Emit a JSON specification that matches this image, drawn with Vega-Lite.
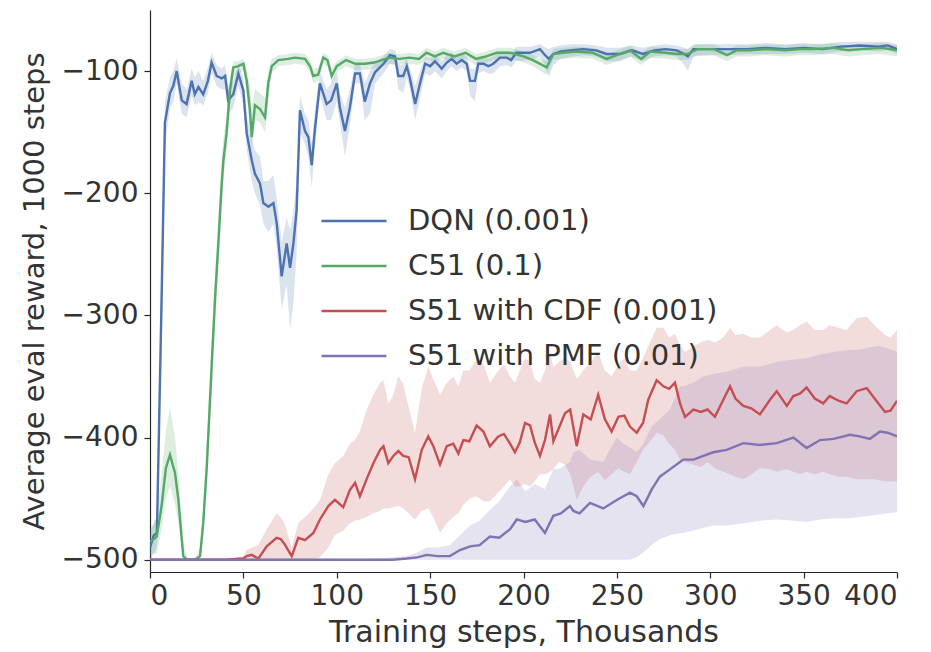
{
  "$schema": "https://vega.github.io/schema/vega-lite/v6.json",
  "width": 747,
  "height": 562,
  "autosize": {"type": "none"},
  "padding": {"left": 150, "top": 10, "right": 34, "bottom": 80},
  "background": "white",
  "config": {
    "view": {"stroke": null},
    "font": "DejaVu Sans",
    "axis": {"grid": false, "domainColor": "#262626", "tickColor": "#262626", "labelColor": "#333333", "titleColor": "#333333", "labelFont": "DejaVu Sans", "titleFont": "DejaVu Sans", "titleFontWeight": "normal", "labelFontSize": 28, "titleFontSize": 29, "tickSize": 6, "domainWidth": 1.2, "tickWidth": 1.2}
  },
  "datasets": {
    "d": [
      {"s":"DQN (0.001)","x":0,"y":-490,"lo":-500,"hi":-478},
      {"s":"DQN (0.001)","x":2,"y":-480,"lo":-495,"hi":-470},
      {"s":"DQN (0.001)","x":3.7,"y":-478,"lo":-490,"hi":-465},
      {"s":"DQN (0.001)","x":6.2,"y":-287,"lo":-330,"hi":-250},
      {"s":"DQN (0.001)","x":8,"y":-142,"lo":-160,"hi":-125},
      {"s":"DQN (0.001)","x":10.7,"y":-118,"lo":-130,"hi":-105},
      {"s":"DQN (0.001)","x":12.5,"y":-112,"lo":-125,"hi":-100},
      {"s":"DQN (0.001)","x":14.3,"y":-100,"lo":-110,"hi":-90},
      {"s":"DQN (0.001)","x":17,"y":-124,"lo":-135,"hi":-110},
      {"s":"DQN (0.001)","x":19.6,"y":-127,"lo":-138,"hi":-115},
      {"s":"DQN (0.001)","x":22.3,"y":-108,"lo":-120,"hi":-98},
      {"s":"DQN (0.001)","x":24,"y":-119,"lo":-128,"hi":-105},
      {"s":"DQN (0.001)","x":25.9,"y":-113,"lo":-125,"hi":-100},
      {"s":"DQN (0.001)","x":28.5,"y":-119,"lo":-128,"hi":-108},
      {"s":"DQN (0.001)","x":31,"y":-108,"lo":-118,"hi":-97},
      {"s":"DQN (0.001)","x":33,"y":-93,"lo":-102,"hi":-85},
      {"s":"DQN (0.001)","x":35.7,"y":-104,"lo":-112,"hi":-95},
      {"s":"DQN (0.001)","x":38.4,"y":-106,"lo":-115,"hi":-98},
      {"s":"DQN (0.001)","x":40.2,"y":-104,"lo":-115,"hi":-95},
      {"s":"DQN (0.001)","x":41.9,"y":-124,"lo":-135,"hi":-112},
      {"s":"DQN (0.001)","x":44.6,"y":-119,"lo":-130,"hi":-108},
      {"s":"DQN (0.001)","x":47.3,"y":-102,"lo":-112,"hi":-94},
      {"s":"DQN (0.001)","x":50,"y":-116,"lo":-128,"hi":-106},
      {"s":"DQN (0.001)","x":51.8,"y":-151,"lo":-165,"hi":-138},
      {"s":"DQN (0.001)","x":54.5,"y":-173,"lo":-190,"hi":-155},
      {"s":"DQN (0.001)","x":56.2,"y":-184,"lo":-200,"hi":-165},
      {"s":"DQN (0.001)","x":58.9,"y":-192,"lo":-210,"hi":-170},
      {"s":"DQN (0.001)","x":60.7,"y":-208,"lo":-225,"hi":-190},
      {"s":"DQN (0.001)","x":63.4,"y":-211,"lo":-232,"hi":-190},
      {"s":"DQN (0.001)","x":66.1,"y":-208,"lo":-225,"hi":-185},
      {"s":"DQN (0.001)","x":67.9,"y":-225,"lo":-245,"hi":-205},
      {"s":"DQN (0.001)","x":70.5,"y":-268,"lo":-295,"hi":-240},
      {"s":"DQN (0.001)","x":73.2,"y":-241,"lo":-275,"hi":-220},
      {"s":"DQN (0.001)","x":75,"y":-261,"lo":-312,"hi":-230},
      {"s":"DQN (0.001)","x":76.8,"y":-241,"lo":-290,"hi":-215},
      {"s":"DQN (0.001)","x":78.5,"y":-214,"lo":-250,"hi":-190},
      {"s":"DQN (0.001)","x":80.3,"y":-132,"lo":-150,"hi":-120},
      {"s":"DQN (0.001)","x":83,"y":-149,"lo":-160,"hi":-135},
      {"s":"DQN (0.001)","x":84.8,"y":-154,"lo":-170,"hi":-140},
      {"s":"DQN (0.001)","x":86.6,"y":-177,"lo":-195,"hi":-160},
      {"s":"DQN (0.001)","x":88.4,"y":-146,"lo":-160,"hi":-130},
      {"s":"DQN (0.001)","x":91,"y":-110,"lo":-120,"hi":-100},
      {"s":"DQN (0.001)","x":94.6,"y":-127,"lo":-140,"hi":-115},
      {"s":"DQN (0.001)","x":97,"y":-124,"lo":-140,"hi":-110},
      {"s":"DQN (0.001)","x":100,"y":-110,"lo":-125,"hi":-100},
      {"s":"DQN (0.001)","x":101.7,"y":-130,"lo":-142,"hi":-118},
      {"s":"DQN (0.001)","x":104.4,"y":-149,"lo":-170,"hi":-130},
      {"s":"DQN (0.001)","x":107,"y":-130,"lo":-145,"hi":-115},
      {"s":"DQN (0.001)","x":109.8,"y":-102,"lo":-110,"hi":-94},
      {"s":"DQN (0.001)","x":112.4,"y":-102,"lo":-110,"hi":-94},
      {"s":"DQN (0.001)","x":115,"y":-125,"lo":-140,"hi":-110},
      {"s":"DQN (0.001)","x":117.8,"y":-110,"lo":-135,"hi":-100},
      {"s":"DQN (0.001)","x":120.5,"y":-101,"lo":-110,"hi":-93},
      {"s":"DQN (0.001)","x":125,"y":-94,"lo":-102,"hi":-88},
      {"s":"DQN (0.001)","x":128.5,"y":-87,"lo":-94,"hi":-82},
      {"s":"DQN (0.001)","x":131.2,"y":-88,"lo":-95,"hi":-83},
      {"s":"DQN (0.001)","x":133,"y":-104,"lo":-115,"hi":-95},
      {"s":"DQN (0.001)","x":135.6,"y":-104,"lo":-118,"hi":-95},
      {"s":"DQN (0.001)","x":137.5,"y":-96,"lo":-105,"hi":-90},
      {"s":"DQN (0.001)","x":139.2,"y":-106,"lo":-115,"hi":-98},
      {"s":"DQN (0.001)","x":142,"y":-127,"lo":-140,"hi":-112},
      {"s":"DQN (0.001)","x":144.6,"y":-110,"lo":-122,"hi":-100},
      {"s":"DQN (0.001)","x":147.3,"y":-94,"lo":-102,"hi":-88},
      {"s":"DQN (0.001)","x":150,"y":-96,"lo":-104,"hi":-90},
      {"s":"DQN (0.001)","x":152.6,"y":-92,"lo":-100,"hi":-86},
      {"s":"DQN (0.001)","x":156.2,"y":-98,"lo":-106,"hi":-92},
      {"s":"DQN (0.001)","x":158.9,"y":-93,"lo":-100,"hi":-87},
      {"s":"DQN (0.001)","x":161.6,"y":-90,"lo":-96,"hi":-85},
      {"s":"DQN (0.001)","x":164.2,"y":-94,"lo":-100,"hi":-88},
      {"s":"DQN (0.001)","x":166.9,"y":-91,"lo":-97,"hi":-86},
      {"s":"DQN (0.001)","x":169.6,"y":-94,"lo":-100,"hi":-88},
      {"s":"DQN (0.001)","x":171.4,"y":-108,"lo":-120,"hi":-98},
      {"s":"DQN (0.001)","x":174,"y":-108,"lo":-125,"hi":-98},
      {"s":"DQN (0.001)","x":175.8,"y":-94,"lo":-102,"hi":-88},
      {"s":"DQN (0.001)","x":178.5,"y":-94,"lo":-100,"hi":-88},
      {"s":"DQN (0.001)","x":181.2,"y":-96,"lo":-102,"hi":-90},
      {"s":"DQN (0.001)","x":183.8,"y":-94,"lo":-102,"hi":-88},
      {"s":"DQN (0.001)","x":187.4,"y":-89,"lo":-96,"hi":-84},
      {"s":"DQN (0.001)","x":191,"y":-89,"lo":-95,"hi":-84},
      {"s":"DQN (0.001)","x":193.4,"y":-91,"lo":-97,"hi":-86},
      {"s":"DQN (0.001)","x":196,"y":-85,"lo":-92,"hi":-80},
      {"s":"DQN (0.001)","x":203.5,"y":-85,"lo":-91,"hi":-80},
      {"s":"DQN (0.001)","x":208.8,"y":-82,"lo":-88,"hi":-78},
      {"s":"DQN (0.001)","x":211,"y":-86,"lo":-94,"hi":-80},
      {"s":"DQN (0.001)","x":213.5,"y":-90,"lo":-105,"hi":-82},
      {"s":"DQN (0.001)","x":216,"y":-86,"lo":-95,"hi":-80},
      {"s":"DQN (0.001)","x":220,"y":-84,"lo":-90,"hi":-79},
      {"s":"DQN (0.001)","x":226,"y":-83,"lo":-88,"hi":-78},
      {"s":"DQN (0.001)","x":232,"y":-82,"lo":-87,"hi":-78},
      {"s":"DQN (0.001)","x":239,"y":-83,"lo":-88,"hi":-79},
      {"s":"DQN (0.001)","x":244.5,"y":-86,"lo":-92,"hi":-81},
      {"s":"DQN (0.001)","x":251.7,"y":-86,"lo":-92,"hi":-81},
      {"s":"DQN (0.001)","x":258,"y":-83,"lo":-88,"hi":-79},
      {"s":"DQN (0.001)","x":264,"y":-86,"lo":-92,"hi":-81},
      {"s":"DQN (0.001)","x":270,"y":-83,"lo":-88,"hi":-79},
      {"s":"DQN (0.001)","x":276,"y":-82,"lo":-87,"hi":-78},
      {"s":"DQN (0.001)","x":282,"y":-83,"lo":-88,"hi":-79},
      {"s":"DQN (0.001)","x":286,"y":-86,"lo":-95,"hi":-81},
      {"s":"DQN (0.001)","x":288,"y":-88,"lo":-100,"hi":-82},
      {"s":"DQN (0.001)","x":291,"y":-82,"lo":-88,"hi":-78},
      {"s":"DQN (0.001)","x":300,"y":-82,"lo":-87,"hi":-78},
      {"s":"DQN (0.001)","x":310,"y":-82,"lo":-87,"hi":-78},
      {"s":"DQN (0.001)","x":320,"y":-82,"lo":-86,"hi":-78},
      {"s":"DQN (0.001)","x":330,"y":-81,"lo":-86,"hi":-77},
      {"s":"DQN (0.001)","x":340,"y":-82,"lo":-86,"hi":-78},
      {"s":"DQN (0.001)","x":350,"y":-81,"lo":-85,"hi":-77},
      {"s":"DQN (0.001)","x":360,"y":-82,"lo":-86,"hi":-78},
      {"s":"DQN (0.001)","x":370,"y":-80,"lo":-84,"hi":-76},
      {"s":"DQN (0.001)","x":380,"y":-79,"lo":-83,"hi":-76},
      {"s":"DQN (0.001)","x":390,"y":-80,"lo":-84,"hi":-76},
      {"s":"DQN (0.001)","x":395,"y":-79,"lo":-83,"hi":-76},
      {"s":"DQN (0.001)","x":400,"y":-82,"lo":-86,"hi":-78},

      {"s":"C51 (0.1)","x":0,"y":-485,"lo":-495,"hi":-475},
      {"s":"C51 (0.1)","x":2,"y":-483,"lo":-495,"hi":-470},
      {"s":"C51 (0.1)","x":3.6,"y":-481,"lo":-495,"hi":-465},
      {"s":"C51 (0.1)","x":6.2,"y":-456,"lo":-475,"hi":-430},
      {"s":"C51 (0.1)","x":8.5,"y":-425,"lo":-450,"hi":-395},
      {"s":"C51 (0.1)","x":10.7,"y":-414,"lo":-440,"hi":-375},
      {"s":"C51 (0.1)","x":13.4,"y":-429,"lo":-455,"hi":-400},
      {"s":"C51 (0.1)","x":15.2,"y":-451,"lo":-470,"hi":-430},
      {"s":"C51 (0.1)","x":17.8,"y":-497,"lo":-500,"hi":-485},
      {"s":"C51 (0.1)","x":20,"y":-500,"lo":-500,"hi":-500},
      {"s":"C51 (0.1)","x":24,"y":-500,"lo":-500,"hi":-500},
      {"s":"C51 (0.1)","x":26.8,"y":-497,"lo":-500,"hi":-490},
      {"s":"C51 (0.1)","x":28.5,"y":-470,"lo":-480,"hi":-455},
      {"s":"C51 (0.1)","x":30.4,"y":-424,"lo":-440,"hi":-405},
      {"s":"C51 (0.1)","x":33,"y":-342,"lo":-360,"hi":-320},
      {"s":"C51 (0.1)","x":34.8,"y":-287,"lo":-310,"hi":-265},
      {"s":"C51 (0.1)","x":36.6,"y":-241,"lo":-260,"hi":-220},
      {"s":"C51 (0.1)","x":38.4,"y":-192,"lo":-210,"hi":-170},
      {"s":"C51 (0.1)","x":39.3,"y":-173,"lo":-192,"hi":-155},
      {"s":"C51 (0.1)","x":41,"y":-151,"lo":-165,"hi":-135},
      {"s":"C51 (0.1)","x":42.8,"y":-116,"lo":-130,"hi":-105},
      {"s":"C51 (0.1)","x":44.6,"y":-97,"lo":-105,"hi":-92},
      {"s":"C51 (0.1)","x":47.3,"y":-96,"lo":-102,"hi":-92},
      {"s":"C51 (0.1)","x":50,"y":-94,"lo":-100,"hi":-90},
      {"s":"C51 (0.1)","x":51.8,"y":-108,"lo":-120,"hi":-98},
      {"s":"C51 (0.1)","x":53.5,"y":-132,"lo":-150,"hi":-112},
      {"s":"C51 (0.1)","x":54.5,"y":-154,"lo":-165,"hi":-130},
      {"s":"C51 (0.1)","x":56.2,"y":-128,"lo":-140,"hi":-115},
      {"s":"C51 (0.1)","x":58.9,"y":-131,"lo":-142,"hi":-118},
      {"s":"C51 (0.1)","x":61.6,"y":-138,"lo":-150,"hi":-122},
      {"s":"C51 (0.1)","x":63.3,"y":-110,"lo":-125,"hi":-100},
      {"s":"C51 (0.1)","x":65.2,"y":-96,"lo":-102,"hi":-90},
      {"s":"C51 (0.1)","x":68.7,"y":-91,"lo":-96,"hi":-87},
      {"s":"C51 (0.1)","x":74,"y":-90,"lo":-95,"hi":-86},
      {"s":"C51 (0.1)","x":77.6,"y":-89,"lo":-94,"hi":-85},
      {"s":"C51 (0.1)","x":83,"y":-90,"lo":-95,"hi":-86},
      {"s":"C51 (0.1)","x":85.7,"y":-96,"lo":-101,"hi":-91},
      {"s":"C51 (0.1)","x":87.4,"y":-104,"lo":-110,"hi":-98},
      {"s":"C51 (0.1)","x":90,"y":-103,"lo":-108,"hi":-97},
      {"s":"C51 (0.1)","x":92.8,"y":-89,"lo":-94,"hi":-85},
      {"s":"C51 (0.1)","x":95,"y":-91,"lo":-96,"hi":-87},
      {"s":"C51 (0.1)","x":97.3,"y":-104,"lo":-110,"hi":-98},
      {"s":"C51 (0.1)","x":100,"y":-96,"lo":-101,"hi":-92},
      {"s":"C51 (0.1)","x":105,"y":-91,"lo":-96,"hi":-87},
      {"s":"C51 (0.1)","x":110,"y":-94,"lo":-99,"hi":-90},
      {"s":"C51 (0.1)","x":115,"y":-94,"lo":-99,"hi":-90},
      {"s":"C51 (0.1)","x":120,"y":-93,"lo":-98,"hi":-89},
      {"s":"C51 (0.1)","x":128,"y":-89,"lo":-94,"hi":-85},
      {"s":"C51 (0.1)","x":133.5,"y":-90,"lo":-95,"hi":-86},
      {"s":"C51 (0.1)","x":139,"y":-89,"lo":-94,"hi":-85},
      {"s":"C51 (0.1)","x":144,"y":-90,"lo":-95,"hi":-86},
      {"s":"C51 (0.1)","x":148,"y":-85,"lo":-90,"hi":-81},
      {"s":"C51 (0.1)","x":152.6,"y":-88,"lo":-93,"hi":-84},
      {"s":"C51 (0.1)","x":157,"y":-85,"lo":-90,"hi":-81},
      {"s":"C51 (0.1)","x":163,"y":-88,"lo":-93,"hi":-84},
      {"s":"C51 (0.1)","x":169,"y":-85,"lo":-90,"hi":-81},
      {"s":"C51 (0.1)","x":174.5,"y":-90,"lo":-95,"hi":-86},
      {"s":"C51 (0.1)","x":180,"y":-88,"lo":-93,"hi":-84},
      {"s":"C51 (0.1)","x":185.7,"y":-85,"lo":-90,"hi":-81},
      {"s":"C51 (0.1)","x":193,"y":-85,"lo":-90,"hi":-81},
      {"s":"C51 (0.1)","x":200,"y":-88,"lo":-93,"hi":-84},
      {"s":"C51 (0.1)","x":205,"y":-91,"lo":-96,"hi":-87},
      {"s":"C51 (0.1)","x":212.4,"y":-97,"lo":-103,"hi":-92},
      {"s":"C51 (0.1)","x":216,"y":-86,"lo":-91,"hi":-82},
      {"s":"C51 (0.1)","x":221,"y":-85,"lo":-90,"hi":-81},
      {"s":"C51 (0.1)","x":228,"y":-84,"lo":-89,"hi":-80},
      {"s":"C51 (0.1)","x":237,"y":-85,"lo":-90,"hi":-81},
      {"s":"C51 (0.1)","x":244.5,"y":-90,"lo":-95,"hi":-86},
      {"s":"C51 (0.1)","x":250,"y":-87,"lo":-92,"hi":-83},
      {"s":"C51 (0.1)","x":257,"y":-83,"lo":-88,"hi":-79},
      {"s":"C51 (0.1)","x":263,"y":-90,"lo":-95,"hi":-85},
      {"s":"C51 (0.1)","x":268,"y":-84,"lo":-89,"hi":-80},
      {"s":"C51 (0.1)","x":276,"y":-85,"lo":-90,"hi":-81},
      {"s":"C51 (0.1)","x":282,"y":-86,"lo":-91,"hi":-82},
      {"s":"C51 (0.1)","x":288,"y":-86,"lo":-91,"hi":-82},
      {"s":"C51 (0.1)","x":293,"y":-82,"lo":-87,"hi":-78},
      {"s":"C51 (0.1)","x":302,"y":-82,"lo":-87,"hi":-78},
      {"s":"C51 (0.1)","x":309,"y":-87,"lo":-92,"hi":-83},
      {"s":"C51 (0.1)","x":314,"y":-83,"lo":-88,"hi":-79},
      {"s":"C51 (0.1)","x":321,"y":-83,"lo":-88,"hi":-79},
      {"s":"C51 (0.1)","x":330,"y":-82,"lo":-87,"hi":-78},
      {"s":"C51 (0.1)","x":340,"y":-83,"lo":-88,"hi":-79},
      {"s":"C51 (0.1)","x":348,"y":-82,"lo":-87,"hi":-78},
      {"s":"C51 (0.1)","x":355,"y":-82,"lo":-87,"hi":-78},
      {"s":"C51 (0.1)","x":366,"y":-81,"lo":-86,"hi":-77},
      {"s":"C51 (0.1)","x":374,"y":-83,"lo":-88,"hi":-79},
      {"s":"C51 (0.1)","x":381,"y":-82,"lo":-87,"hi":-78},
      {"s":"C51 (0.1)","x":392,"y":-81,"lo":-86,"hi":-77},
      {"s":"C51 (0.1)","x":400,"y":-83,"lo":-88,"hi":-79},

      {"s":"S51 with CDF (0.001)","x":0,"y":-500,"lo":-500,"hi":-500},
      {"s":"S51 with CDF (0.001)","x":20,"y":-500,"lo":-500,"hi":-500},
      {"s":"S51 with CDF (0.001)","x":40,"y":-500,"lo":-500,"hi":-500},
      {"s":"S51 with CDF (0.001)","x":50,"y":-499,"lo":-500,"hi":-497},
      {"s":"S51 with CDF (0.001)","x":51.8,"y":-497,"lo":-500,"hi":-492},
      {"s":"S51 with CDF (0.001)","x":54.5,"y":-496,"lo":-500,"hi":-490},
      {"s":"S51 with CDF (0.001)","x":58,"y":-499,"lo":-500,"hi":-488},
      {"s":"S51 with CDF (0.001)","x":62.5,"y":-489,"lo":-500,"hi":-475},
      {"s":"S51 with CDF (0.001)","x":67.8,"y":-482,"lo":-500,"hi":-462},
      {"s":"S51 with CDF (0.001)","x":70,"y":-483,"lo":-500,"hi":-465},
      {"s":"S51 with CDF (0.001)","x":72,"y":-487,"lo":-500,"hi":-470},
      {"s":"S51 with CDF (0.001)","x":75.9,"y":-497,"lo":-500,"hi":-490},
      {"s":"S51 with CDF (0.001)","x":79.4,"y":-482,"lo":-500,"hi":-470},
      {"s":"S51 with CDF (0.001)","x":83,"y":-484,"lo":-500,"hi":-465},
      {"s":"S51 with CDF (0.001)","x":87.5,"y":-478,"lo":-500,"hi":-458},
      {"s":"S51 with CDF (0.001)","x":91,"y":-467,"lo":-498,"hi":-451},
      {"s":"S51 with CDF (0.001)","x":95.5,"y":-456,"lo":-490,"hi":-430},
      {"s":"S51 with CDF (0.001)","x":99,"y":-451,"lo":-480,"hi":-421},
      {"s":"S51 with CDF (0.001)","x":103.5,"y":-457,"lo":-476,"hi":-415},
      {"s":"S51 with CDF (0.001)","x":107,"y":-443,"lo":-470,"hi":-405},
      {"s":"S51 with CDF (0.001)","x":109.8,"y":-437,"lo":-468,"hi":-402},
      {"s":"S51 with CDF (0.001)","x":112.4,"y":-448,"lo":-467,"hi":-395},
      {"s":"S51 with CDF (0.001)","x":116,"y":-434,"lo":-465,"hi":-377},
      {"s":"S51 with CDF (0.001)","x":119.6,"y":-421,"lo":-462,"hi":-365},
      {"s":"S51 with CDF (0.001)","x":123.2,"y":-410,"lo":-460,"hi":-355},
      {"s":"S51 with CDF (0.001)","x":125,"y":-407,"lo":-458,"hi":-353},
      {"s":"S51 with CDF (0.001)","x":127.6,"y":-421,"lo":-458,"hi":-372},
      {"s":"S51 with CDF (0.001)","x":130.3,"y":-415,"lo":-457,"hi":-365},
      {"s":"S51 with CDF (0.001)","x":133,"y":-411,"lo":-456,"hi":-350},
      {"s":"S51 with CDF (0.001)","x":135.6,"y":-415,"lo":-458,"hi":-356},
      {"s":"S51 with CDF (0.001)","x":138.5,"y":-416,"lo":-462,"hi":-375},
      {"s":"S51 with CDF (0.001)","x":141.9,"y":-434,"lo":-467,"hi":-396},
      {"s":"S51 with CDF (0.001)","x":145.5,"y":-410,"lo":-460,"hi":-360},
      {"s":"S51 with CDF (0.001)","x":149,"y":-399,"lo":-458,"hi":-342},
      {"s":"S51 with CDF (0.001)","x":151.7,"y":-407,"lo":-465,"hi":-352},
      {"s":"S51 with CDF (0.001)","x":155.3,"y":-422,"lo":-478,"hi":-365},
      {"s":"S51 with CDF (0.001)","x":158.9,"y":-407,"lo":-470,"hi":-355},
      {"s":"S51 with CDF (0.001)","x":162.4,"y":-405,"lo":-465,"hi":-350},
      {"s":"S51 with CDF (0.001)","x":165.1,"y":-413,"lo":-462,"hi":-358},
      {"s":"S51 with CDF (0.001)","x":167.8,"y":-402,"lo":-455,"hi":-345},
      {"s":"S51 with CDF (0.001)","x":171,"y":-403,"lo":-450,"hi":-345},
      {"s":"S51 with CDF (0.001)","x":174.9,"y":-390,"lo":-448,"hi":-336},
      {"s":"S51 with CDF (0.001)","x":178.5,"y":-395,"lo":-452,"hi":-340},
      {"s":"S51 with CDF (0.001)","x":182,"y":-407,"lo":-452,"hi":-355},
      {"s":"S51 with CDF (0.001)","x":186.5,"y":-399,"lo":-445,"hi":-345},
      {"s":"S51 with CDF (0.001)","x":189.5,"y":-397,"lo":-440,"hi":-340},
      {"s":"S51 with CDF (0.001)","x":192.8,"y":-405,"lo":-434,"hi":-350},
      {"s":"S51 with CDF (0.001)","x":195.4,"y":-412,"lo":-440,"hi":-355},
      {"s":"S51 with CDF (0.001)","x":198,"y":-404,"lo":-440,"hi":-345},
      {"s":"S51 with CDF (0.001)","x":200.8,"y":-388,"lo":-438,"hi":-335},
      {"s":"S51 with CDF (0.001)","x":203.5,"y":-390,"lo":-440,"hi":-338},
      {"s":"S51 with CDF (0.001)","x":206,"y":-404,"lo":-436,"hi":-352},
      {"s":"S51 with CDF (0.001)","x":208.8,"y":-415,"lo":-430,"hi":-355},
      {"s":"S51 with CDF (0.001)","x":211.5,"y":-402,"lo":-430,"hi":-345},
      {"s":"S51 with CDF (0.001)","x":214.2,"y":-381,"lo":-428,"hi":-330},
      {"s":"S51 with CDF (0.001)","x":216,"y":-403,"lo":-426,"hi":-342},
      {"s":"S51 with CDF (0.001)","x":219,"y":-392,"lo":-420,"hi":-338},
      {"s":"S51 with CDF (0.001)","x":222.2,"y":-380,"lo":-422,"hi":-335},
      {"s":"S51 with CDF (0.001)","x":225,"y":-377,"lo":-430,"hi":-338},
      {"s":"S51 with CDF (0.001)","x":228.5,"y":-407,"lo":-451,"hi":-352},
      {"s":"S51 with CDF (0.001)","x":232,"y":-381,"lo":-440,"hi":-345},
      {"s":"S51 with CDF (0.001)","x":236,"y":-385,"lo":-432,"hi":-338},
      {"s":"S51 with CDF (0.001)","x":240,"y":-365,"lo":-428,"hi":-330},
      {"s":"S51 with CDF (0.001)","x":243.6,"y":-385,"lo":-435,"hi":-345},
      {"s":"S51 with CDF (0.001)","x":247.2,"y":-395,"lo":-430,"hi":-350},
      {"s":"S51 with CDF (0.001)","x":250.8,"y":-383,"lo":-425,"hi":-340},
      {"s":"S51 with CDF (0.001)","x":254,"y":-382,"lo":-428,"hi":-335},
      {"s":"S51 with CDF (0.001)","x":257,"y":-391,"lo":-430,"hi":-345},
      {"s":"S51 with CDF (0.001)","x":260.6,"y":-396,"lo":-420,"hi":-345},
      {"s":"S51 with CDF (0.001)","x":264,"y":-388,"lo":-410,"hi":-335},
      {"s":"S51 with CDF (0.001)","x":266.8,"y":-369,"lo":-405,"hi":-325},
      {"s":"S51 with CDF (0.001)","x":271.3,"y":-353,"lo":-396,"hi":-310},
      {"s":"S51 with CDF (0.001)","x":274.9,"y":-358,"lo":-398,"hi":-310},
      {"s":"S51 with CDF (0.001)","x":278,"y":-360,"lo":-405,"hi":-318},
      {"s":"S51 with CDF (0.001)","x":281.1,"y":-355,"lo":-410,"hi":-315},
      {"s":"S51 with CDF (0.001)","x":283.8,"y":-372,"lo":-418,"hi":-325},
      {"s":"S51 with CDF (0.001)","x":286.5,"y":-383,"lo":-420,"hi":-330},
      {"s":"S51 with CDF (0.001)","x":291,"y":-377,"lo":-422,"hi":-325},
      {"s":"S51 with CDF (0.001)","x":295,"y":-379,"lo":-424,"hi":-322},
      {"s":"S51 with CDF (0.001)","x":298.5,"y":-377,"lo":-420,"hi":-320},
      {"s":"S51 with CDF (0.001)","x":302.5,"y":-383,"lo":-425,"hi":-322},
      {"s":"S51 with CDF (0.001)","x":307,"y":-369,"lo":-428,"hi":-318},
      {"s":"S51 with CDF (0.001)","x":310.6,"y":-358,"lo":-430,"hi":-310},
      {"s":"S51 with CDF (0.001)","x":313.5,"y":-368,"lo":-432,"hi":-316},
      {"s":"S51 with CDF (0.001)","x":317.7,"y":-374,"lo":-434,"hi":-315},
      {"s":"S51 with CDF (0.001)","x":322,"y":-376,"lo":-430,"hi":-318},
      {"s":"S51 with CDF (0.001)","x":326.6,"y":-381,"lo":-425,"hi":-318},
      {"s":"S51 with CDF (0.001)","x":332,"y":-369,"lo":-426,"hi":-312},
      {"s":"S51 with CDF (0.001)","x":335.6,"y":-362,"lo":-428,"hi":-308},
      {"s":"S51 with CDF (0.001)","x":341,"y":-374,"lo":-426,"hi":-314},
      {"s":"S51 with CDF (0.001)","x":344.5,"y":-366,"lo":-428,"hi":-312},
      {"s":"S51 with CDF (0.001)","x":348,"y":-364,"lo":-430,"hi":-308},
      {"s":"S51 with CDF (0.001)","x":351.6,"y":-359,"lo":-428,"hi":-305},
      {"s":"S51 with CDF (0.001)","x":356,"y":-368,"lo":-430,"hi":-312},
      {"s":"S51 with CDF (0.001)","x":360.5,"y":-372,"lo":-428,"hi":-312},
      {"s":"S51 with CDF (0.001)","x":364,"y":-366,"lo":-430,"hi":-308},
      {"s":"S51 with CDF (0.001)","x":369,"y":-370,"lo":-432,"hi":-310},
      {"s":"S51 with CDF (0.001)","x":373,"y":-372,"lo":-432,"hi":-312},
      {"s":"S51 with CDF (0.001)","x":378.4,"y":-362,"lo":-434,"hi":-302},
      {"s":"S51 with CDF (0.001)","x":383.8,"y":-359.5,"lo":-434,"hi":-301},
      {"s":"S51 with CDF (0.001)","x":388,"y":-368,"lo":-434,"hi":-308},
      {"s":"S51 with CDF (0.001)","x":393.6,"y":-379,"lo":-436,"hi":-316},
      {"s":"S51 with CDF (0.001)","x":396.5,"y":-378,"lo":-436,"hi":-318},
      {"s":"S51 with CDF (0.001)","x":400,"y":-370,"lo":-436,"hi":-312},

      {"s":"S51 with PMF (0.01)","x":0,"y":-500,"lo":-500,"hi":-499},
      {"s":"S51 with PMF (0.01)","x":40,"y":-500,"lo":-500,"hi":-499},
      {"s":"S51 with PMF (0.01)","x":80,"y":-500,"lo":-500,"hi":-499},
      {"s":"S51 with PMF (0.01)","x":120,"y":-500,"lo":-500,"hi":-499},
      {"s":"S51 with PMF (0.01)","x":130,"y":-500,"lo":-500,"hi":-498},
      {"s":"S51 with PMF (0.01)","x":137.5,"y":-499,"lo":-500,"hi":-497},
      {"s":"S51 with PMF (0.01)","x":143,"y":-498,"lo":-500,"hi":-494},
      {"s":"S51 with PMF (0.01)","x":148.2,"y":-496,"lo":-500,"hi":-490},
      {"s":"S51 with PMF (0.01)","x":154,"y":-497,"lo":-500,"hi":-490},
      {"s":"S51 with PMF (0.01)","x":160.6,"y":-497,"lo":-500,"hi":-488},
      {"s":"S51 with PMF (0.01)","x":166,"y":-492,"lo":-500,"hi":-480},
      {"s":"S51 with PMF (0.01)","x":171.4,"y":-489,"lo":-500,"hi":-472},
      {"s":"S51 with PMF (0.01)","x":176.5,"y":-488,"lo":-500,"hi":-468},
      {"s":"S51 with PMF (0.01)","x":182,"y":-481,"lo":-500,"hi":-459},
      {"s":"S51 with PMF (0.01)","x":187,"y":-482,"lo":-500,"hi":-452},
      {"s":"S51 with PMF (0.01)","x":192.8,"y":-475,"lo":-500,"hi":-440},
      {"s":"S51 with PMF (0.01)","x":196.4,"y":-467,"lo":-500,"hi":-434},
      {"s":"S51 with PMF (0.01)","x":201,"y":-469,"lo":-500,"hi":-444},
      {"s":"S51 with PMF (0.01)","x":206,"y":-467,"lo":-500,"hi":-438},
      {"s":"S51 with PMF (0.01)","x":211.5,"y":-478,"lo":-500,"hi":-442},
      {"s":"S51 with PMF (0.01)","x":216,"y":-464,"lo":-500,"hi":-426},
      {"s":"S51 with PMF (0.01)","x":220,"y":-462,"lo":-500,"hi":-425},
      {"s":"S51 with PMF (0.01)","x":224.9,"y":-456,"lo":-500,"hi":-420},
      {"s":"S51 with PMF (0.01)","x":226.7,"y":-460,"lo":-500,"hi":-412},
      {"s":"S51 with PMF (0.01)","x":230,"y":-462,"lo":-500,"hi":-410},
      {"s":"S51 with PMF (0.01)","x":235.6,"y":-453.5,"lo":-500,"hi":-418},
      {"s":"S51 with PMF (0.01)","x":242.7,"y":-458,"lo":-500,"hi":-420},
      {"s":"S51 with PMF (0.01)","x":249.9,"y":-451,"lo":-500,"hi":-400},
      {"s":"S51 with PMF (0.01)","x":253.5,"y":-448,"lo":-500,"hi":-405},
      {"s":"S51 with PMF (0.01)","x":257,"y":-445,"lo":-500,"hi":-408},
      {"s":"S51 with PMF (0.01)","x":260.6,"y":-448,"lo":-498,"hi":-412},
      {"s":"S51 with PMF (0.01)","x":264.2,"y":-456,"lo":-494,"hi":-405},
      {"s":"S51 with PMF (0.01)","x":268.6,"y":-442.6,"lo":-488,"hi":-391},
      {"s":"S51 with PMF (0.01)","x":273,"y":-432,"lo":-483,"hi":-385},
      {"s":"S51 with PMF (0.01)","x":278.4,"y":-426,"lo":-480,"hi":-377},
      {"s":"S51 with PMF (0.01)","x":283.8,"y":-420,"lo":-478,"hi":-358},
      {"s":"S51 with PMF (0.01)","x":285.6,"y":-418,"lo":-478,"hi":-358},
      {"s":"S51 with PMF (0.01)","x":291,"y":-418,"lo":-476,"hi":-355},
      {"s":"S51 with PMF (0.01)","x":296.3,"y":-415,"lo":-474,"hi":-350},
      {"s":"S51 with PMF (0.01)","x":301.6,"y":-412,"lo":-472,"hi":-348},
      {"s":"S51 with PMF (0.01)","x":308.8,"y":-410,"lo":-472,"hi":-346},
      {"s":"S51 with PMF (0.01)","x":317.7,"y":-404.5,"lo":-470,"hi":-342},
      {"s":"S51 with PMF (0.01)","x":326.6,"y":-406,"lo":-468,"hi":-342},
      {"s":"S51 with PMF (0.01)","x":335.6,"y":-404.5,"lo":-467,"hi":-338},
      {"s":"S51 with PMF (0.01)","x":344.5,"y":-400,"lo":-468,"hi":-336},
      {"s":"S51 with PMF (0.01)","x":351.6,"y":-408.5,"lo":-469,"hi":-335},
      {"s":"S51 with PMF (0.01)","x":358.8,"y":-402,"lo":-467,"hi":-332},
      {"s":"S51 with PMF (0.01)","x":366,"y":-401,"lo":-466,"hi":-330},
      {"s":"S51 with PMF (0.01)","x":374.8,"y":-397.7,"lo":-466,"hi":-328},
      {"s":"S51 with PMF (0.01)","x":380,"y":-399,"lo":-465,"hi":-328},
      {"s":"S51 with PMF (0.01)","x":385.5,"y":-401,"lo":-464,"hi":-326},
      {"s":"S51 with PMF (0.01)","x":390.9,"y":-395,"lo":-463,"hi":-325},
      {"s":"S51 with PMF (0.01)","x":395,"y":-396,"lo":-462,"hi":-327},
      {"s":"S51 with PMF (0.01)","x":400,"y":-399,"lo":-461,"hi":-330}
    ]
  },
  "data": {"name": "d"},
  "encoding": {
    "x": {"field": "x", "type": "quantitative", "scale": {"domain": [0, 400], "nice": false, "zero": false},
      "axis": {"values": [0, 50, 100, 150, 200, 250, 300, 350, 400], "title": "Training steps, Thousands", "labelPadding": 4, "titlePadding": 7, "titleFontSize": 30}},
    "color": {"field": "s", "type": "nominal",
      "scale": {"domain": ["DQN (0.001)", "C51 (0.1)", "S51 with CDF (0.001)", "S51 with PMF (0.01)"], "range": ["#4C72B0", "#55A868", "#C44E52", "#8172B2"]},
      "legend": {"title": null, "orient": "none", "legendX": 170, "legendY": 196, "symbolType": "stroke", "symbolSize": 4225, "symbolStrokeWidth": 2.4, "symbolOpacity": 1, "clipHeight": 30, "rowPadding": 15, "labelFontSize": 29, "labelLimit": 500, "labelColor": "#333333", "labelFont": "DejaVu Sans", "labelOffset": 20, "padding": 0}}
  },
  "layer": [
    {
      "mark": {"type": "area", "opacity": 0.2, "clip": true},
      "encoding": {
        "y": {"field": "lo", "type": "quantitative", "scale": {"domain": [-510, -50], "nice": false, "zero": false},
          "axis": {"values": [-100, -200, -300, -400, -500], "title": "Average eval reward, 1000 steps", "labelPadding": 6, "titlePadding": 12}},
        "y2": {"field": "hi"}
      }
    },
    {
      "mark": {"type": "line", "strokeWidth": 2.4, "clip": true},
      "encoding": {
        "y": {"field": "y", "type": "quantitative"}
      }
    }
  ]
}
